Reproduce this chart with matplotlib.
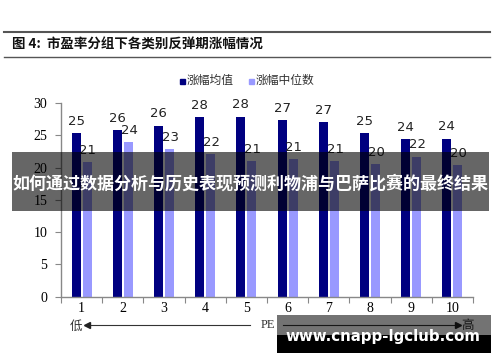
import matplotlib
matplotlib.use("Agg")
import matplotlib.pyplot as plt
from matplotlib.patches import Rectangle
import numpy as np

plt.rcParams['font.family'] = ['Noto Sans CJK SC', 'DejaVu Sans']

categories = ['1', '2', '3', '4', '5', '6', '7', '8', '9', '10']
mean_vals = [25.3, 25.8, 26.5, 27.8, 27.9, 27.3, 27.1, 25.3, 24.4, 24.5]
median_vals = [20.9, 24.0, 22.9, 22.1, 21.05, 21.3, 21.05, 20.6, 21.7, 20.4]
mean_labels = ['25', '26', '26', '28', '28', '27', '27', '25', '24', '24']
median_labels = ['21', '24', '23', '22', '21', '21', '21', '20', '22', '20']
series_names = ['涨幅均值', '涨幅中位数']
yticks = [0, 5, 10, 15, 20, 25, 30]
title = '图 4:  市盈率分组下各类别反弹期涨幅情况'
overlay_text = '如何通过数据分析与历史表现预测利物浦与巴萨比赛的最终结果'
watermark = 'www.cnapp-lgclub.com'

dark = '#000080'
light = '#9999FF'

W, H = 500, 362
fig = plt.figure(figsize=(W / 100, H / 100), dpi=100)
fig.patch.set_facecolor('white')

def fx(px):
    return px / W

def fy(py):
    return 1 - py / H

# axes: x 61..473, y 103..296.7
ax = fig.add_axes([fx(61), fy(296.7), fx(473) - fx(61), fy(103) - fy(296.7)])
x = np.arange(1, len(categories) + 1)
bw = 0.22
off = 0.135
ax.bar(x - off, mean_vals, bw, color=dark, zorder=2)
ax.bar(x + off, median_vals, bw, color=light, zorder=2)
ax.set_xlim(0.5, len(categories) + 0.5)
ax.set_ylim(0, 30)
ax.set_yticks(yticks)
ax.set_yticklabels([str(t) for t in yticks], family='Liberation Serif', fontsize=10)
ax.set_xticks(np.arange(0.5, len(categories) + 1, 1))
ax.set_xticklabels([])
ax.set_xticks(x, minor=True)
ax.set_xticklabels(categories, minor=True, family='Liberation Serif', fontsize=10)
ax.tick_params(axis='x', which='minor', length=0, pad=4)
ax.tick_params(axis='x', which='major', length=4, color='#888888', direction='out')
ax.tick_params(axis='y', length=4, color='#888888', direction='out', pad=6)
for s in ['top', 'right']:
    ax.spines[s].set_visible(False)
for s in ['left', 'bottom']:
    ax.spines[s].set_color('#888888')
    ax.spines[s].set_linewidth(1.0)

for xi, v, lab in zip(x, mean_vals, mean_labels):
    ax.text(xi - off, v + 0.8, lab, ha='center', va='bottom', fontsize=9.5,
            family='DejaVu Sans', color='#222222')
for xi, v, lab in zip(x, median_vals, median_labels):
    ax.text(xi + off + 0.02, v + 0.8, lab, ha='center', va='bottom', fontsize=9.5,
            family='DejaVu Sans', color='#222222')

# title lines and text
fig.add_artist(plt.Line2D([fx(4), fx(490)], [fy(32), fy(32)], color='#555555', lw=1.5))
fig.add_artist(plt.Line2D([fx(4), fx(490)], [fy(57), fy(57)], color='#555555', lw=1.0))
fig.text(fx(12), fy(45), title, fontsize=9.7, fontweight='bold', ha='left', va='center',
         color='#111111')

# legend
fig.add_artist(Rectangle((fx(180), fy(83.5)), fx(5), fy(78.5) - fy(83.5), color=dark))
fig.text(fx(187), fy(80), series_names[0], fontsize=8.5, ha='left', va='center', color='#333333')
fig.add_artist(Rectangle((fx(249), fy(83.5)), fx(5), fy(78.5) - fy(83.5), color=light))
fig.text(fx(256), fy(80), series_names[1], fontsize=8.5, ha='left', va='center', color='#333333')

# PE arrows
fig.text(fx(76), fy(326), '低', fontsize=9, ha='center', va='center', color='#333333')
fig.add_artist(plt.Line2D([fx(90), fx(250)], [fy(325), fy(325)], color='#333333', lw=0.8))
fig.add_artist(plt.Line2D([fx(87)], [fy(325)], marker='<', markersize=4, color='#222222'))
fig.text(fx(268), fy(325), 'PE', fontsize=9, ha='center', va='center', family='Liberation Serif',
         color='#333333')
fig.add_artist(plt.Line2D([fx(283), fx(455)], [fy(325), fy(325)], color='#333333', lw=0.8))
fig.add_artist(plt.Line2D([fx(458)], [fy(325)], marker='>', markersize=4, color='#222222'))
fig.text(fx(468), fy(326), '高', fontsize=9, ha='center', va='center', color='#333333')

# overlay band
fig.add_artist(Rectangle((fx(12), fy(210.5)), fx(489) - fx(12), fy(152) - fy(210.5),
                         facecolor='#000000', alpha=0.6, zorder=10))
fig.text(fx(250), fy(184), overlay_text, fontsize=12.25, fontweight='bold', color='white',
         ha='center', va='center', zorder=11)

# watermark box
fig.add_artist(Rectangle((fx(277), fy(335)), fx(491) - fx(277), fy(315) - fy(335),
                         facecolor='#000000', alpha=0.55, zorder=10))
fig.add_artist(Rectangle((fx(277), fy(353)), fx(491) - fx(277), fy(335) - fy(353),
                         facecolor='#000000', zorder=10))
fig.text(fx(383), fy(336), watermark, fontsize=10.8, fontweight='bold', color='white',
         ha='center', va='center', family='DejaVu Sans', zorder=11)

fig.savefig('out.png', dpi=100, facecolor='white')
